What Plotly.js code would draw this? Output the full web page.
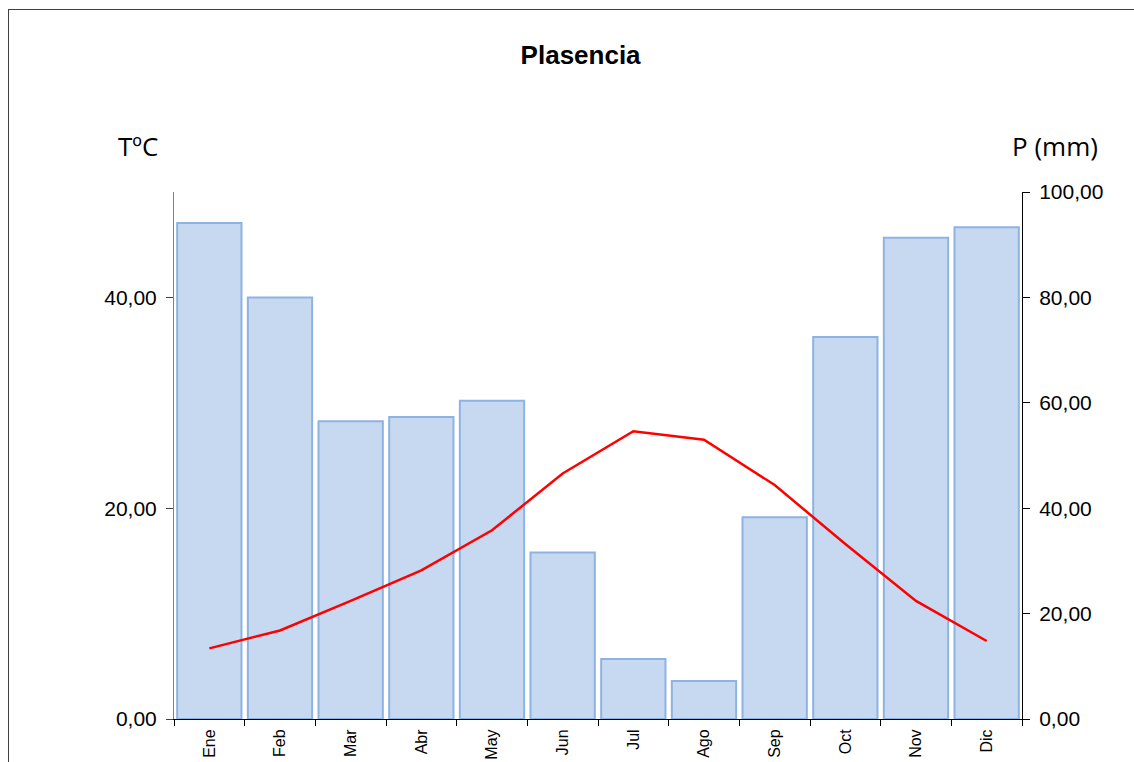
<!DOCTYPE html>
<html>
<head>
<meta charset="utf-8">
<script src="https://cdn.plot.ly/plotly-3.0.1.min.js"></script>
<style>
  html, body { margin: 0; padding: 0; background: #fff; width: 1134px; height: 762px; overflow: hidden; }
  #chart { position: absolute; left: 0; top: 0; width: 1134px; height: 762px; }
  #frame { position: absolute; left: 8px; top: 9px; width: 1200px; height: 800px;
           border-left: 1px solid #404040; border-top: 1px solid #404040; pointer-events: none; }
</style>
</head>
<body>
<div id="chart"></div>
<div id="frame"></div>
<script>
// Climograma de Plasencia: precipitación mensual (barras) y temperatura media (línea)
const meses = ['Ene', 'Feb', 'Mar', 'Abr', 'May', 'Jun', 'Jul', 'Ago', 'Sep', 'Oct', 'Nov', 'Dic'];
const precipitacion = [94.1, 80.0, 56.5, 57.3, 60.4, 31.6, 11.4, 7.2, 38.3, 72.5, 91.3, 93.3];
const temperatura = [6.7, 8.4, 11.2, 14.1, 17.9, 23.3, 27.3, 26.5, 22.2, 16.6, 11.2, 7.4];
const ticksT = [0, 20, 40];
const ticksP = [0, 20, 40, 60, 80, 100];

const barras = {
  type: 'bar',
  x: meses,
  y: precipitacion,
  yaxis: 'y',
  marker: { color: '#C6D9F0', line: { color: '#8DB3E2', width: 2 } },
  hoverinfo: 'x+y'
};

const linea = {
  type: 'scatter',
  mode: 'lines',
  x: meses,
  y: temperatura,
  yaxis: 'y2',
  line: { color: '#FF0000', width: 2.5 },
  hoverinfo: 'x+y'
};

const fuenteEje = { family: 'Liberation Sans, Arial, sans-serif', size: 21, color: '#000' };
const fuenteTituloEje = { family: 'Open Sans, sans-serif', size: 26, color: '#000' };

const layout = {
  width: 1134,
  height: 762,
  margin: { l: 174, r: 112, t: 192, b: 43, pad: 0 },
  paper_bgcolor: '#fff',
  plot_bgcolor: '#fff',
  showlegend: false,
  separators: ',.',
  bargap: 0.09,
  title: {
    text: '<b>Plasencia</b>',
    font: { family: 'Liberation Sans, Arial, sans-serif', size: 26, color: '#000' },
    x: 0.512, xanchor: 'center',
    y: 0.928, yanchor: 'middle'
  },
  xaxis: {
    type: 'category',
    range: [-0.5, 11.5],
    tickangle: -90,
    tickson: 'boundaries',
    ticks: 'outside',
    ticklen: 6,
    tickcolor: '#000',
    ticklabelstandoff: 3,
    showline: true,
    linecolor: '#000',
    linewidth: 1,
    showgrid: false,
    zeroline: false,
    tickfont: { family: 'Liberation Sans, Arial, sans-serif', size: 16, color: '#000' },
    fixedrange: true
  },
  yaxis: {
    side: 'right',
    range: [0, 100],
    tickvals: ticksP,
    tickformat: '.2f',
    ticks: 'outside',
    ticklen: 7,
    tickcolor: '#000',
    ticklabelstandoff: 5,
    showline: true,
    linecolor: '#000',
    linewidth: 1,
    showgrid: false,
    zeroline: false,
    tickfont: fuenteEje,
    fixedrange: true
  },
  yaxis2: {
    overlaying: 'y',
    side: 'left',
    range: [0, 50],
    tickvals: ticksT,
    tickformat: '.2f',
    ticks: 'outside',
    ticklen: 7,
    tickcolor: '#404040',
    ticklabelstandoff: 5,
    showline: true,
    linecolor: '#808080',
    linewidth: 1,
    showgrid: false,
    zeroline: false,
    tickfont: fuenteEje,
    fixedrange: true
  },
  annotations: [
    {
      text: 'TºC', xref: 'paper', yref: 'paper',
      x: -0.043, y: 1.088, xanchor: 'center', yanchor: 'middle',
      showarrow: false,
      font: fuenteTituloEje
    },
    {
      text: 'P (mm)', xref: 'paper', yref: 'paper',
      x: 1.0395, y: 1.088, xanchor: 'center', yanchor: 'middle',
      showarrow: false,
      font: fuenteTituloEje
    }
  ]
};

Plotly.newPlot('chart', [barras, linea], layout, { displayModeBar: false, staticPlot: true });
</script>
</body>
</html>
